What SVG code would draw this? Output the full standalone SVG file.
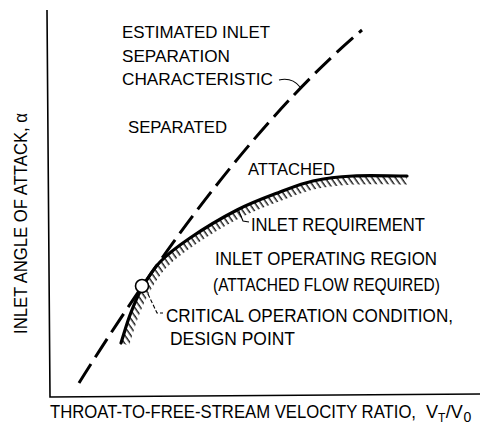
<svg xmlns="http://www.w3.org/2000/svg" width="488" height="429" viewBox="0 0 488 429">
<style>
text{font-family:"Liberation Sans","DejaVu Sans",sans-serif;fill:#000;}
.t{font-size:18px;}
.s{font-size:16.5px;}
.ax{fill:none;stroke:#000;stroke-width:1.6;}
.lead{fill:none;stroke:#000;stroke-width:1.1;}
</style>
<defs>
<pattern id="hatch" patternUnits="userSpaceOnUse" width="4.8" height="30" patternTransform="rotate(-35)">
<rect x="0.5" y="0" width="1.3" height="30" fill="#000"/>
</pattern>
<clipPath id="below">
<path d="M121,343 C124,333.7 126.5,324.2 130,315 C133.5,305.8 137,296.8 142,288 C147,279.2 152,270.3 160,262 C168,253.7 177.2,246.7 190,238 C202.8,229.3 222,217.7 237,210 C252,202.3 267.3,196.8 280,192 C292.7,187.2 300.8,183.7 313,181 C325.2,178.3 337.3,176.8 353,176 C368.7,175.2 389,176 407,176 L420,176 L420,429 L94,429 Z"/>
</clipPath>
</defs>
<g id="axes">
<path class="ax" d="M47,10 L50,397 L480,394"/>
</g>
<g id="axis-labels">
<text class="t" transform="translate(27,334) rotate(-90)" textLength="221" lengthAdjust="spacingAndGlyphs">INLET ANGLE OF ATTACK, α</text>
<text class="t" x="50" y="418" textLength="366" lengthAdjust="spacingAndGlyphs">THROAT-TO-FREE-STREAM VELOCITY RATIO,</text>
<text class="t" x="426" y="418">V<tspan font-size="12" dy="4">T</tspan><tspan dy="-4" dx="0.5">/V</tspan><tspan font-size="14" dy="4" dx="0.5">0</tspan></text>
</g>
<g id="connectors">
<path id="separation-line" d="M79,383 Q229,143 362,30" fill="none" stroke="#000" stroke-width="3" stroke-dasharray="22 8"/>
<path id="requirement-hatch" clip-path="url(#below)" fill="none" stroke="url(#hatch)" stroke-width="17" d="M121,343 C124,333.7 126.5,324.2 130,315 C133.5,305.8 137,296.8 142,288 C147,279.2 152,270.3 160,262 C168,253.7 177.2,246.7 190,238 C202.8,229.3 222,217.7 237,210 C252,202.3 267.3,196.8 280,192 C292.7,187.2 300.8,183.7 313,181 C325.2,178.3 337.3,176.8 353,176 C368.7,175.2 389,176 407,176"/>
<path id="requirement-curve" fill="none" stroke="#000" stroke-width="3.2" stroke-linecap="round" d="M121,343 C124,333.7 126.5,324.2 130,315 C133.5,305.8 137,296.8 142,288 C147,279.2 152,270.3 160,262 C168,253.7 177.2,246.7 190,238 C202.8,229.3 222,217.7 237,210 C252,202.3 267.3,196.8 280,192 C292.7,187.2 300.8,183.7 313,181 C325.2,178.3 337.3,176.8 353,176 C368.7,175.2 389,176 407,176"/>
<path class="lead" d="M279,80 Q292,77 300,87"/>
<path class="lead" d="M238,209 L243,221 L249,222"/>
<path class="lead" stroke-dasharray="4 2" d="M148,294 L157,313 L163,313"/>
</g>
<g id="design-point">
<circle cx="142" cy="286" r="6.5" fill="#fff" stroke="#000" stroke-width="1.6"/>
</g>
<g id="label-separation">
<text class="s" x="122" y="38" textLength="148" lengthAdjust="spacingAndGlyphs">ESTIMATED INLET</text>
<text class="s" x="122" y="62" textLength="108" lengthAdjust="spacingAndGlyphs">SEPARATION</text>
<text class="s" x="122" y="85" textLength="151" lengthAdjust="spacingAndGlyphs">CHARACTERISTIC</text>
</g>
<g id="label-separated">
<text class="s" x="128" y="133" textLength="99" lengthAdjust="spacingAndGlyphs">SEPARATED</text>
</g>
<g id="label-attached">
<text class="s" x="248" y="175" textLength="87" lengthAdjust="spacingAndGlyphs">ATTACHED</text>
</g>
<g id="label-requirement">
<text class="t" x="251" y="231" textLength="174" lengthAdjust="spacingAndGlyphs">INLET REQUIREMENT</text>
</g>
<g id="label-region">
<text class="t" x="215" y="265" textLength="222" lengthAdjust="spacingAndGlyphs">INLET OPERATING REGION</text>
<text class="t" x="213" y="291" textLength="227" lengthAdjust="spacingAndGlyphs">(ATTACHED FLOW REQUIRED)</text>
</g>
<g id="label-critical">
<text class="t" x="166" y="322" textLength="287" lengthAdjust="spacingAndGlyphs">CRITICAL OPERATION CONDITION,</text>
<text class="t" x="170" y="345" textLength="125" lengthAdjust="spacingAndGlyphs">DESIGN POINT</text>
</g>
</svg>
